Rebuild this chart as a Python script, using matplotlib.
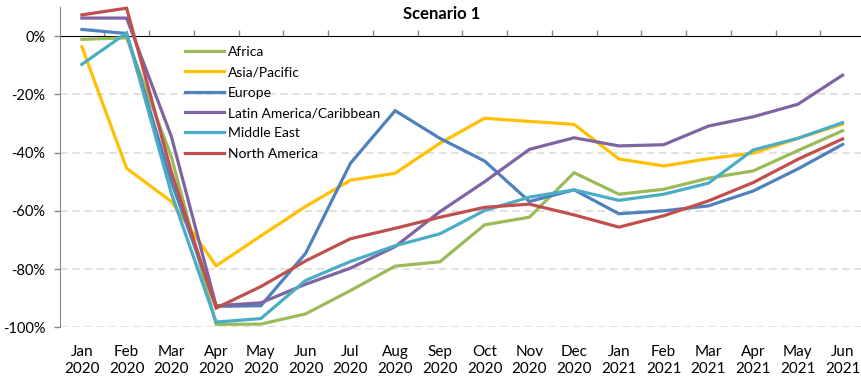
import numpy as np
import matplotlib
matplotlib.use("Agg")
import matplotlib.pyplot as plt

plt.rcParams['font.family'] = ['Lato', 'DejaVu Sans']

months = ['Jan\n2020', 'Feb\n2020', 'Mar\n2020', 'Apr\n2020', 'May\n2020', 'Jun\n2020',
          'Jul\n2020', 'Aug\n2020', 'Sep\n2020', 'Oct\n2020', 'Nov\n2020', 'Dec\n2020',
          'Jan\n2021', 'Feb\n2021', 'Mar\n2021', 'Apr\n2021', 'May\n2021', 'Jun\n2021']

# % change
africa = [-1.1, -0.6, -41.5, -99.0, -98.9, -95.4, -87.4, -79.0, -77.5, -64.8, -62.2, -46.9,
          -54.3, -52.6, -48.8, -46.3, -39.3, -32.5]
asia_pacific = [-3.7, -45.4, -56.8, -78.9, -68.6, -58.5, -49.5, -47.1, -36.8, -28.2, -29.3, -30.3,
                -42.2, -44.6, -42.1, -40.2, -35.1, -30.2]
europe = [2.3, 0.9, -50.0, -92.8, -92.6, -74.6, -43.7, -25.6, -35.1, -42.9, -56.8, -52.8,
          -61.0, -60.0, -58.3, -53.2, -45.6, -37.2]
latin_america = [6.2, 6.2, -34.5, -92.6, -91.6, -85.2, -79.7, -72.3, -60.3, -50.0, -38.9, -34.9,
                 -37.7, -37.3, -30.9, -27.7, -23.4, -13.4]
middle_east = [-9.7, 1.1, -54.0, -98.2, -97.0, -83.9, -77.4, -72.0, -67.9, -59.9, -55.3, -52.8,
               -56.4, -54.3, -50.5, -39.1, -35.1, -29.7]
north_america = [7.3, 9.6, -46.7, -93.4, -86.0, -77.2, -69.6, -66.0, -62.2, -58.8, -57.7, -61.4,
                 -65.6, -61.7, -56.6, -50.3, -42.3, -35.3]

series = [
    ('Africa', africa, '#9BBB59'),
    ('Asia/Pacific', asia_pacific, '#FFC000'),
    ('Europe', europe, '#4F81BD'),
    ('Latin America/Caribbean', latin_america, '#8064A2'),
    ('Middle East', middle_east, '#4BACC6'),
    ('North America', north_america, '#C0504D'),
]

fig = plt.figure(figsize=(8.61, 3.81), dpi=100)
ax = fig.add_axes([59.5 / 861, 1 - 327.3 / 381, (865 - 59.5) / 861, (327.3 - 7) / 381])

x = np.arange(len(months))
for name, vals, col in series:
    ax.plot(x, vals, color=col, lw=2.3, label=name, clip_on=False, solid_joinstyle='miter')

ymin, ymax = -100, 10
ax.set_xlim(-0.5, len(months) - 0.5)
ax.set_ylim(ymin, ymax)

# gridlines
for v in [-20, -40, -60, -80, -100]:
    ax.axhline(v, color='#D9D9D9', lw=1.1, ls=(0, (5, 3)), zorder=0)

ax.set_yticks([0, -20, -40, -60, -80, -100])
ax.set_yticklabels(['0%', '-20%', '-40%', '-60%', '-80%', '-100%'])
ax.tick_params(axis='y', length=4, width=1, color='#868686', pad=6, labelsize=10.5)

ax.set_xticks(x)
ax.set_xticklabels(months)
ax.tick_params(axis='x', length=0, pad=13, labelsize=11)

for s in ['top', 'right', 'bottom']:
    ax.spines[s].set_visible(False)
ax.spines['left'].set_color('#868686')

# category axis crosses at 0%
sec = ax.secondary_xaxis((0 - ymin) / (ymax - ymin))
sec.set_xticks(np.arange(0.5, len(months) - 0.5, 1.0))
sec.set_xticklabels([])
sec.tick_params(axis='x', direction='out', length=4, width=1, color='#868686')
sec.spines['bottom'].set_color('#868686')
sec.spines['bottom'].set_linewidth(1)

fig.text(0.513, 1 - 14 / 381, 'Scenario 1', ha='center', va='center', fontsize=12, fontweight='bold')

ax.legend(loc='upper left', bbox_to_anchor=(185 / 861, 1 - 46 / 381), bbox_transform=fig.transFigure,
          frameon=False, fontsize=10, handlelength=2.8, handletextpad=0.3, labelspacing=0.6,
          borderpad=0, borderaxespad=0)

fig.savefig('out.png', dpi=100)
